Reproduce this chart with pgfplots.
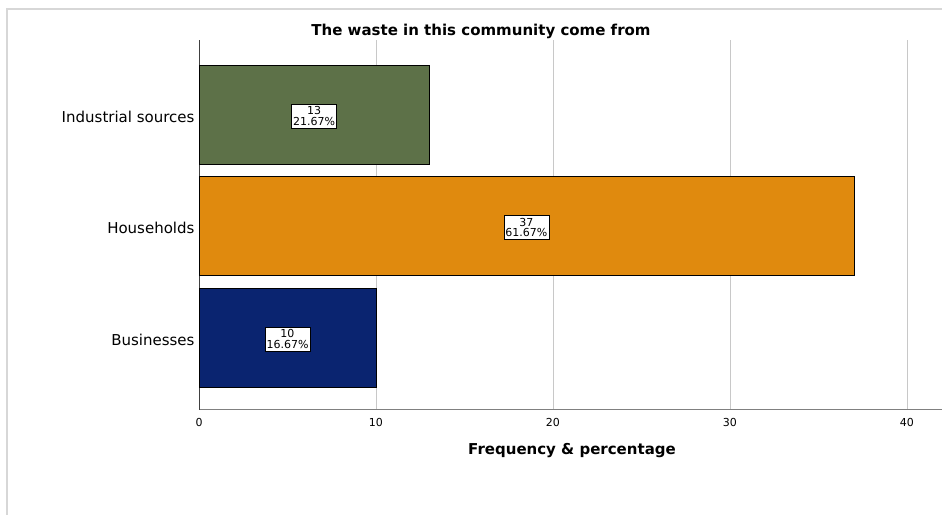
\documentclass[border=0pt]{standalone}
\usepackage{pgfplots}
\pgfplotsset{compat=1.18}
\usepackage{pgfplotstable}
\usepackage{fontspec}
\setmainfont{DejaVu Sans}
\definecolor{cgreen}{RGB}{93,113,72}
\definecolor{corange}{RGB}{224,138,14}
\definecolor{cnavy}{RGB}{10,36,112}
\definecolor{gridgray}{RGB}{200,200,200}
\definecolor{framegray}{RGB}{215,215,215}
\pgfplotstableread{
y half count pct
0 5 10 16.67
1 18.5 37 61.67
2 6.5 13 21.67
}\labeltable
\begin{document}
\begin{tikzpicture}[x=1pt,y=1pt]
\useasboundingbox (0,0) rectangle (942,514);
\draw[framegray, line width=1.5pt] (7,-20) -- (7,505) -- (960,505);
\begin{axis}[
  at={(199pt,104pt)}, anchor=south west,
  scale only axis, width=743pt, height=370pt,
  xmin=0, xmax=41.98, ymin=-0.65, ymax=2.668,
  xbar, bar width=0.888,
  ytick={0,1,2}, yticklabels={Businesses,Households,Industrial sources},
  xtick={0,10,20,30,40},
  xmajorgrids, grid style={gridgray, line width=0.8pt},
  axis x line*=bottom, axis y line*=left,
  x axis line style={-, draw=gray, line width=1pt},
  y axis line style={-, draw=darkgray, line width=1pt},
  major tick length=0pt,
  /pgf/number format/assume math mode=true,
  xticklabel style={font=\fontsize{11}{12}\selectfont, yshift=-5pt},
  yticklabel style={font=\fontsize{15}{18}\selectfont, xshift=-1pt, yshift=-2pt},
  clip=false,
]
\addplot[fill=cgreen, draw=black, line width=0.6pt, bar shift=0pt] coordinates {(13,2)};
\addplot[fill=corange, draw=black, line width=0.6pt, bar shift=0pt] coordinates {(37,1)};
\addplot[fill=cnavy, draw=black, line width=0.6pt, bar shift=0pt] coordinates {(10,0)};
\addplot[only marks, mark=none, point meta=\thisrow{count},
  visualization depends on={\thisrow{pct} \as \pct},
  nodes near coords={\pgfmathprintnumber{\pgfplotspointmeta}\\\pgfmathprintnumber[fixed,fixed zerofill,precision=2]{\pct}\%},
  every node near coord/.style={anchor=center, draw=black, fill=white, align=center,
    line width=0.7pt, inner xsep=1.5pt, inner ysep=2.5pt, yshift=-1.5pt,
    font=\fontsize{11}{10.5}\selectfont}]
  table[x=half, y=y] {\labeltable};
\end{axis}
\node[font=\bfseries\fontsize{15}{17}\selectfont] at (481,483) {The waste in this community come from};
\node[font=\bfseries\fontsize{15}{17}\selectfont] at (572,63) {Frequency \& percentage};
\end{tikzpicture}
\end{document}
